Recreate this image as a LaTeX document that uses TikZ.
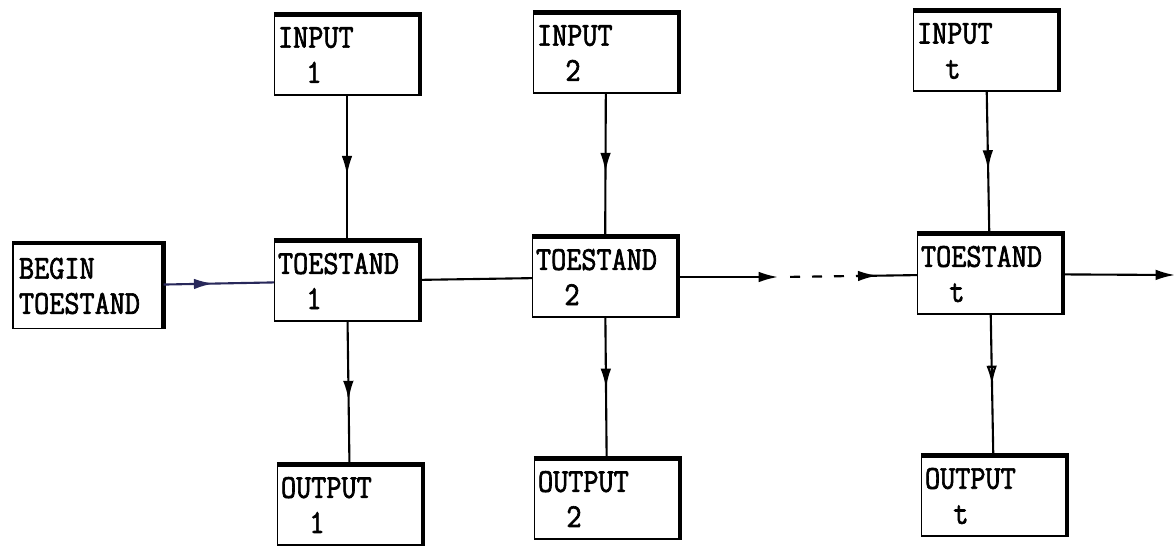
\documentclass[tikz,border=0pt]{standalone}
\usepackage{fontspec}
\setmonofont[FakeStretch=0.88,FakeBold=2]{Latin Modern Mono}
\usetikzlibrary{arrows.meta,decorations.markings}

\definecolor{inkblue}{RGB}{40,40,90}

\tikzset{
  box/.style={draw, line width=0.8pt, minimum width=2.9cm, minimum height=1.6cm,
    text width=2.76cm, inner sep=0.07cm, align=left,
    font=\ttfamily\fontsize{19}{20}\selectfont},
  wire/.style={line width=1.2pt},
  midarrow/.style={postaction={decorate}, decoration={markings,
    mark=at position #1 with {\arrow{Latex[length=11pt,width=6pt]}}}},
  midopen/.style={postaction={decorate}, decoration={markings,
    mark=at position #1 with {\arrow{Latex[open,length=11pt,width=6pt]}}}}
}

\begin{document}
\begin{tikzpicture}[x=0.02cm,y=-0.02cm]

\useasboundingbox (0,0) rectangle (1175,545);

% Draw input boxes
\node[box] (in1) at (347,55) {INPUT\\\hspace*{0.85em}1};
\node[box] (in2) at (606,53) {INPUT\\\hspace*{0.85em}2};
\node[box] (int) at (986,51) {INPUT\\\hspace*{0.85em}t};

% Draw state boxes
\node[box, minimum width=3cm, minimum height=1.7cm] (begin) at (88,286) {BEGIN\\TOESTAND};
\node[box] (st1) at (347,281) {TOESTAND\\\hspace*{0.85em}1};
\node[box] (st2) at (605,277) {TOESTAND\\\hspace*{0.85em}2};
\node[box] (stt) at (990,274) {TOESTAND\\\hspace*{0.85em}t};

% Draw output boxes
\node[box] (out1) at (350,505) {OUTPUT\\\hspace*{0.85em}1};
\node[box] (out2) at (607,499) {OUTPUT\\\hspace*{0.85em}2};
\node[box] (outt) at (994,496) {OUTPUT\\\hspace*{0.85em}t};

% Draw heavy top and right edges
\foreach \n in {in1,in2,int,begin,st1,st2,stt,out1,out2,outt}
  \draw[line width=2.6pt] (\n.north west) -- (\n.north east) -- (\n.south east);

% Draw vertical connectors
\draw[wire,midarrow=0.55] (in1) -- (st1);
\draw[wire,midarrow=0.55] (in2) -- (st2);
\draw[wire,midarrow=0.55] (int) -- (stt);
\draw[wire,midarrow=0.55] (st1) -- (out1);
\draw[wire,midarrow=0.5] (st2) -- (out2);
\draw[wire,midopen=0.5] (stt) -- (outt);

% Draw state chain
\coordinate (dotsL) at (778,277);
\coordinate (dotsR) at (856,276);
\coordinate (exit) at (1175,275);
\draw[wire,inkblue,midarrow=0.45] (begin) -- (st1);
\draw[wire] (st1) -- (st2);
\draw[wire,-{Latex[length=11pt,width=6pt]}] (st2) -- (dotsL);
\draw[wire,dash pattern=on 0.2cm off 0.24cm,dash phase=0.2cm] (dotsL) -- (dotsR);
\draw[wire,midarrow=0.35] (dotsR) -- (stt);
\draw[wire,-{Latex[length=11pt,width=6pt]}] (stt) -- (exit);

\end{tikzpicture}
\end{document}
